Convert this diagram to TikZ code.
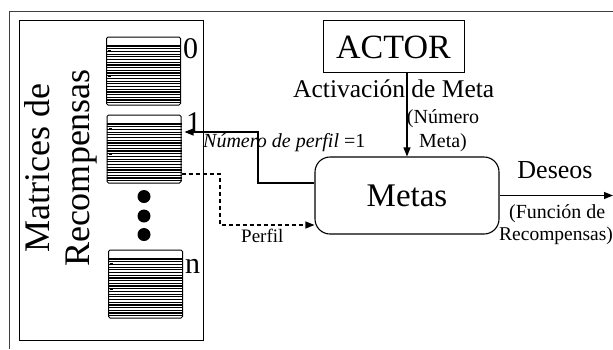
\documentclass[tikz,border=0pt]{standalone}
\usepackage{fontspec}
\setmainfont{Liberation Serif}
\usetikzlibrary{arrows.meta,calc}

\newcommand\fsz[1]{\fontsize{#1}{#1}\selectfont}

\begin{document}
\begin{tikzpicture}[x=1pt,y=-1pt,
  line/.style={line width=1.1pt,draw=black},
  arr/.style={line,-{Triangle[length=9pt,width=7pt]}},
  matbox/.style={draw,line width=1pt,minimum width=74pt,minimum height=68pt,
    inner sep=0pt,rounded corners=1.5pt},
  lab/.style={inner sep=0pt,anchor=base west},
  clab/.style={inner sep=0pt,anchor=base},
]
\useasboundingbox (0,0) rectangle (613,349);

% outer frame and the panel of reward matrices
\draw[line width=0.9pt,black!75] (9,349) -- (9,11) -- (613,11);
\draw[line width=1pt] (19,20) rectangle (203,340);

\node[rotate=90,align=center,font=\fontsize{36}{40}\selectfont] (title)
  at (61,168) {Matrices de\\Recompensas};

% reward matrices
\node[matbox] (m0) at (143.5,71) {};
\node[matbox] (m1) at (144,149) {};
\node[matbox] (mn) at (145.5,284) {};
\foreach \m in {m0,m1,mn}{
  \foreach \k in {0,...,21}
    \draw[line width=1.2pt] ($(\m.north west)+(0,9.5+\k*2.7)$) -- ($(\m.north east)+(0,9.5+\k*2.7)$);
  \foreach \r in {13,38,62}
    \fill ($(\m.north west)+(2,\r)$) rectangle +(3,2);
}
\node[lab,font=\fsz{30}] (l0) at (183,58) {0};
\node[lab,font=\fsz{30}] (l1) at (186,132) {1};
\node[lab,font=\fsz{30}] (ln) at (185,273) {n};

\foreach \yy in {196.5,216,234.5}
  \fill (144,\yy) circle (6.5);

% actor and goals
\node[draw,line width=1pt,minimum width=141pt,minimum height=52pt,
  text height=26pt,font=\fsz{34}] (actor) at (393.5,46) {ACTOR};
\node[draw,line width=1.1pt,rounded corners=15pt,minimum width=184pt,
  minimum height=77pt,font=\fsz{33}] (metas) at (407,195.5) {Metas};

\node[lab,font=\fsz{25.5}] (act) at (293,97) {Activación de Meta};
\node[clab,font=\fsz{20}] (num1) at (443,123) {(Número};
\node[clab,font=\fsz{20}] (num2) at (443,147) {Meta)};
\node[lab,font=\fsz{20}] (np) at (203,147) {\textit{Número de perfil} =1};
\node[clab,font=\fsz{26}] (des) at (555,178) {Deseos};
\node[lab,font=\fsz{20}] (fun1) at (509,218) {(Función de};
\node[lab,font=\fsz{19.5}] (fun2) at (499,240) {Recompensas)};
\node[lab,font=\fsz{19}] (perf) at (241,242) {Perfil};

% connectors
\draw[arr] (metas.north |- actor.south) -- (metas.north);

\coordinate (b1) at (258,132);
\coordinate (t1) at ($(b1 -| m1.east)+(3,0)$);
\draw[arr] ([yshift=12.5pt]metas.west) -| (b1) -- (t1);

\coordinate (b2) at (220,225);
\draw[arr,dash pattern=on 4pt off 3pt] ([yshift=-25pt]m1.east) -| (b2) -- (b2 -| metas.west);

\coordinate (out) at (613,195.5);
\draw[arr] (metas.east) -- (out);
\end{tikzpicture}
\end{document}
